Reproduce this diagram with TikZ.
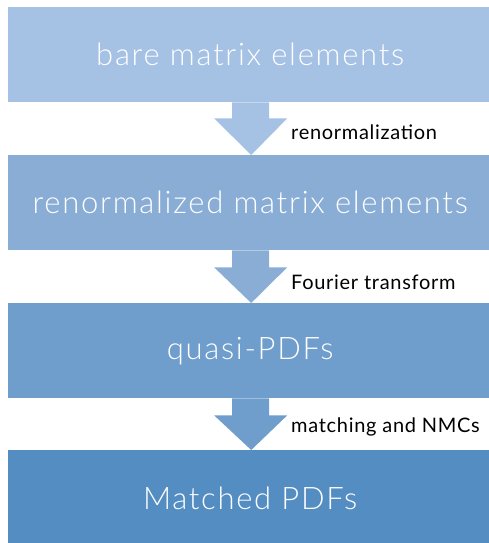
\documentclass[tikz,border=0pt]{standalone}
\usepackage{fontspec}
\setmainfont{Lato}[LetterSpace=3.5]
\newfontfamily\thinfont{Lato Light}[LetterSpace=5.5]
\usetikzlibrary{calc}
\definecolor{cA}{RGB}{165,193,228}
\definecolor{cB}{RGB}{138,173,214}
\definecolor{cC}{RGB}{111,157,204}
\definecolor{cD}{RGB}{84,141,194}
\tikzset{
  box/.style={anchor=north west, minimum width=484pt, minimum height=95pt, inner sep=0pt, text=white, font=\thinfont\fontsize{31}{36}\selectfont},
  lbl/.style={anchor=base west, inner sep=0pt, text=black, font=\fontsize{20}{23}\selectfont}
}
\begin{document}
\begin{tikzpicture}[x=1pt,y=-1pt]
\useasboundingbox (0,0) rectangle (489,543);
\clip (0,0) rectangle (489,543);
\node[box, fill=cA] (b1) at (8,7) {bare matrix elements};
\node[box, fill=cB] (b2) at (8,155) {renormalized matrix elements};
\node[box, fill=cC] (b3) at (8,303) {quasi-PDFs};
\node[box, fill=cD, minimum height=100pt] (b4) at (8,450) {\raisebox{3pt}{Matched PDFs}};
\fill[cA] ($(b1.south)+(-18,0)$) -- ++(0,16) -- ++(-18,0) -- ($(b2.north)+(1,0)$) -- ($(b1.south)+(37,16)$) -- ++(-18,0) -- ++(0,-16) -- cycle;
\fill[cB] ($(b2.south)+(-18,0)$) -- ++(0,17) -- ++(-18,0) -- ($(b3.north)+(1,0)$) -- ($(b2.south)+(37,17)$) -- ++(-18,0) -- ++(0,-17) -- cycle;
\fill[cC] ($(b3.south)+(-18,0)$) -- ++(0,17) -- ++(-18,0) -- ($(b4.north)+(1,0)$) -- ($(b3.south)+(37,17)$) -- ++(-18,0) -- ++(0,-17) -- cycle;
\node[lbl] (l1) at (291,139) {renormalization};
\node[lbl] (l2) at (291,289) {Fourier transform};
\node[lbl] (l3) at (291,432) {matching and NMCs};
\end{tikzpicture}
\end{document}
